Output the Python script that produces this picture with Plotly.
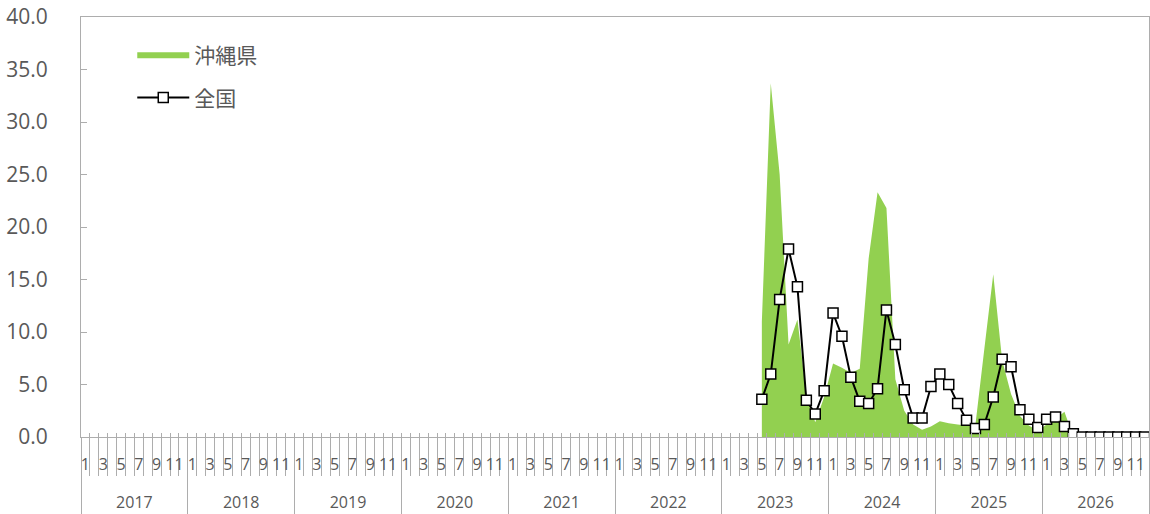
import plotly.graph_objects as go

# 軸のカテゴリ
years = list(range(2017, 2027))
months = list(range(1, 13))

# 2023年5月からの値（定点当たり報告数）
start_year, start_month = 2023, 5
okinawa = [11.0, 33.7, 25.0, 8.8, 11.2, 4.0, 1.4, 3.8,
           7.0, 6.6, 6.1, 6.5, 17.0, 23.3, 21.8, 5.5, 2.5, 1.2, 0.7, 1.0,
           1.5, 1.3, 1.2, 1.1, 1.2, 8.4, 15.5, 7.3, 4.1, 2.0, 1.1, 0.6,
           1.2, 1.7, 2.4, 0.0, 0.0, 0.0, 0.0, 0.0, 0.0, 0.0, 0.0, 0.0]
zenkoku = [3.6, 6.0, 13.1, 17.9, 14.3, 3.5, 2.2, 4.4,
           11.8, 9.6, 5.7, 3.4, 3.2, 4.6, 12.1, 8.8, 4.5, 1.8, 1.8, 4.8,
           6.0, 5.0, 3.2, 1.6, 0.8, 1.2, 3.8, 7.4, 6.7, 2.6, 1.7, 0.9,
           1.7, 1.9, 1.0, 0.3, 0.0, 0.0, 0.0, 0.0, 0.0, 0.0, 0.0, 0.0]

n = len(years) * len(months)
x = list(range(n))
offset = (start_year - years[0]) * 12 + (start_month - 1)
y_oki = [None] * offset + okinawa
y_zen = [None] * offset + zenkoku

month_vals = [i for i in x if months[i % 12] % 2 == 1]
month_text = [str(months[i % 12]) for i in month_vals]
year_vals = [k * 12 + 5.5 for k in range(len(years))]
year_text = [str(y) for y in years]

grey = '#ADADAD'
txt = '#595959'
font = 'Open Sans, Noto Sans CJK JP, sans-serif'

fig = go.Figure()
fig.add_trace(go.Scatter(x=x, y=y_oki, name='沖縄県', mode='none',
                         fill='tozeroy', fillcolor='#92D050',
                         legendgroup='a'))
fig.add_trace(go.Scatter(x=x, y=y_zen, name='全国', mode='lines+markers',
                         line=dict(color='black', width=2),
                         marker=dict(symbol='square', size=10, color='white',
                                     line=dict(color='black', width=1.5)),
                         legendgroup='b'))
# 年ラベル用・目盛り用の軸（表示のみ）
for ax in ['x2', 'x3']:
    fig.add_trace(go.Scatter(x=x, y=[None] * n, xaxis=ax, mode='lines',
                             showlegend=False, hoverinfo='skip'))

rng = [-0.5, n - 0.5]
fig.update_layout(
    width=1150, height=514,
    margin=dict(l=81, r=1, t=17, b=77),
    paper_bgcolor='white', plot_bgcolor='white',
    font=dict(family=font, color=txt),
    showlegend=True,
    legend=dict(x=0.048, y=0.957, xanchor='left', yanchor='top',
                font=dict(size=21, color=txt,
                          family='Noto Sans CJK JP, sans-serif'),
                itemwidth=52, traceorder='grouped', tracegroupgap=12,
                bgcolor='rgba(0,0,0,0)'),
    xaxis=dict(range=rng, showline=True, linecolor=grey, linewidth=1,
               mirror=True, showgrid=False, zeroline=False, automargin=False,
               tickmode='array', tickvals=month_vals, ticktext=month_text,
               ticks='', tickfont=dict(size=16, color=txt),
               ticklabelstandoff=13, ticklabeloverflow='allow',
               minor=dict(tick0=-0.5, dtick=1, ticks='outside', ticklen=38,
                          tickcolor=grey, tickwidth=1, showgrid=False)),
    xaxis2=dict(range=rng, overlaying='x', anchor='y', side='bottom',
                showline=False, showgrid=False, zeroline=False,
                automargin=False, ticklabeloverflow='allow',
                tickmode='array', tickvals=year_vals, ticktext=year_text,
                ticks='', tickfont=dict(size=16, color=txt),
                ticklabelstandoff=54,
                minor=dict(tick0=-0.5, dtick=12, ticks='outside', ticklen=78,
                           tickcolor=grey, tickwidth=1, showgrid=False)),
    xaxis3=dict(range=rng, overlaying='x', anchor='y', side='bottom',
                showline=False, showgrid=False, zeroline=False,
                automargin=False,
                tickmode='linear', tick0=-0.5, dtick=1, ticks='inside',
                ticklen=4, tickcolor=grey, showticklabels=False),
    yaxis=dict(range=[0, 40], tickmode='linear', tick0=0, dtick=5,
               tickformat='.1f', showline=True, linecolor=grey,
               linewidth=1, mirror=True, showgrid=False, zeroline=False,
               automargin=False, ticklabeloverflow='allow',
               ticks='inside', ticklen=6, tickcolor=grey,
               tickfont=dict(size=21, color=txt), ticklabelstandoff=28),
)

# ページの余白をなくして 1150x514 で描き直す
js = """
document.body.style.margin = '0';
document.body.style.overflow = 'hidden';
var gd = document.getElementById('{plot_id}');
Plotly.relayout(gd, {width: 1150, height: 514});
"""
fig.write_html('out.html', post_script=js,
               config={'displayModeBar': False})
